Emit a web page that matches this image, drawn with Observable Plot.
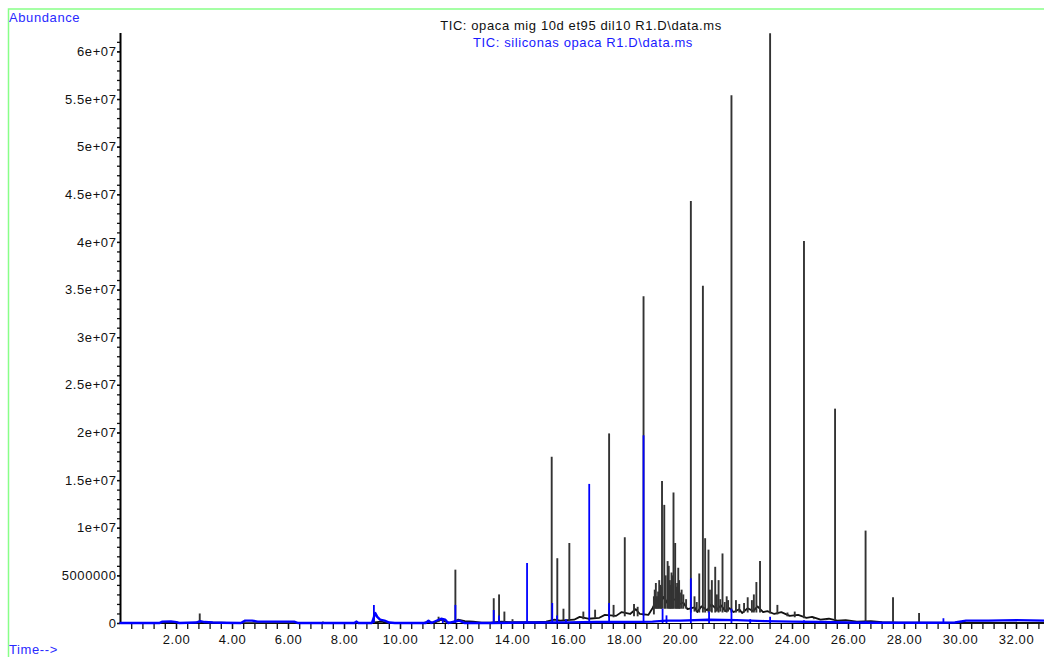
<!DOCTYPE html>
<html><head><meta charset="utf-8">
<script src="https://cdn.jsdelivr.net/npm/d3@7"></script>
<script src="https://cdn.jsdelivr.net/npm/@observablehq/plot@0.6"></script>
<style>
html,body{margin:0;padding:0;background:#fff;}
#chart{width:1044px;height:657px;overflow:hidden;position:relative;}
svg{display:block;}
</style></head><body><div id="chart"></div>
<script>
// ---- titles ----
const titleBlack = "TIC: opaca mig 10d et95 dil10 R1.D\\data.ms";
const titleBlue = "TIC: siliconas opaca R1.D\\data.ms";
const yAxisTitle = "Abundance";
const xAxisTitle = "Time-->";

// ---- tick labels ----
const xTickValues = [2, 4, 6, 8, 10, 12, 14, 16, 18, 20, 22, 24, 26, 28, 30, 32];
const xTickLabels = ["2.00","4.00","6.00","8.00","10.00","12.00","14.00","16.00","18.00","20.00","22.00","24.00","26.00","28.00","30.00","32.00"];
const yTickValues = [0, 5e6, 1e7, 1.5e7, 2e7, 2.5e7, 3e7, 3.5e7, 4e7, 4.5e7, 5e7, 5.5e7, 6e7];
const yTickLabels = ["0","5000000","1e+07","1.5e+07","2e+07","2.5e+07","3e+07","3.5e+07","4e+07","4.5e+07","5e+07","5.5e+07","6e+07"];

// ---- black trace (opaca mig 10d et95 dil10): baseline points ----
const blackBaseTime = [0,1.5,1.9,2.2,2.7,3.0,3.3,3.6,4.0,7.0,8.3,9.0,9.3,9.6,10.8,11.0,11.2,11.45,11.6,11.8,12.05,12.3,12.6,12.9,13.2,13.6,13.9,14.2,14.8,15.2,15.5,15.7,16.2,16.4,16.7,17.1,17.3,17.7,17.9,18.2,18.4,18.55,18.85,19.0,19.15,19.25,19.38,19.5,19.6,19.7,19.85,19.95,20.1,20.25,20.5,20.6,20.75,20.95,21.1,21.3,21.45,21.6,21.75,21.9,22.1,22.2,22.4,22.6,22.75,22.95,23.1,23.35,23.6,23.9,24.2,24.5,24.7,25.0,25.3,25.6,25.9,26.3,26.8,27.2,27.8,28.5,30.0,33.0];
const blackBaseAbund = [3e4,5e4,1.5e5,5e4,1e5,1.5e5,1e5,8e4,3e4,3e4,6e4,8e4,2e5,5e4,5e4,2e5,5e4,4e5,2e5,5e4,4e5,2.5e5,2e5,1e5,1e5,2e5,1.5e5,1.5e5,1.5e5,2e5,4e5,3e5,4e5,7e5,5e5,6e5,9e5,8e5,1.2e6,1e6,1.5e6,1e6,9e5,1.6e6,2.5e6,1.9e6,2.8e6,2.2e6,3e6,2.4e6,2.6e6,2.0e6,2.2e6,1.5e6,1.7e6,1.2e6,1.8e6,1.4e6,2.0e6,1.5e6,1.9e6,1.3e6,1.6e6,1.2e6,1.5e6,1.1e6,1.6e6,1.3e6,1.8e6,1.2e6,1.3e6,1.0e6,1.2e6,8e5,9e5,6e5,7e5,4e5,5e5,3e5,3.5e5,2e5,2.5e5,1.5e5,1e5,8e4,5e4,5e4];

// ---- black trace: peaks (time, apex, foot) ----
const blackPeakTime = [2.83,7.23,9.05,11.36,11.96,13.33,13.52,13.71,14.0,15.40,15.60,15.82,16.03,16.53,16.95,17.45,17.61,18.01,18.34,18.47,18.68,19.05,19.12,19.2,19.28,19.34,19.42,19.54,19.62,19.68,19.75,19.81,19.88,19.92,19.98,20.04,20.37,20.67,20.80,20.88,21.00,21.12,21.24,21.36,21.50,21.65,21.82,21.98,22.27,22.55,22.71,22.84,23.20,23.46,23.82,24.08,24.41,24.76,25.19,25.52,26.61,27.59,28.52,
  19.08,19.16,19.24,19.31,19.47,19.58,19.65,19.72,19.85,19.95,20.1,20.2,20.5,20.58,21.05,21.3,21.42,21.58,21.7,22.1,22.4,22.62];
const blackPeakAbund = [1.0e6,1.5e5,9e5,6.6e5,5.6e6,2.6e6,3.0e6,1.2e6,4e5,1.745e7,6.8e6,1.5e6,8.4e6,1.2e6,1.4e6,1.99e7,1.9e6,9.0e6,2.0e6,1.7e6,3.43e7,2.8e6,4.2e6,3.3e6,4.0e6,1.49e7,1.24e7,6.5e6,4.5e6,5.3e6,1.37e7,8.4e6,4.2e6,5.8e6,3.2e6,3.5e6,4.43e7,5.2e6,3.54e7,8.9e6,7.7e6,4.5e6,5.9e6,4.5e6,7.3e6,2.8e6,5.54e7,2.4e6,2.1e6,2.4e6,4.3e6,6.5e6,6.19e7,1.9e6,1.1e6,1.2e6,4.01e7,5e5,4e5,2.25e7,9.7e6,2.7e6,1.05e6,
  3.5e6,2.8e6,4.5e6,3.8e6,5e6,6e6,4e6,5e6,3.8e6,4.5e6,3e6,2.5e6,2.8e6,2.2e6,3.5e6,3e6,2.5e6,2.2e6,2.4e6,2.0e6,2.7e6,3.0e6];
const blackPeakFoot = [1e5,5e4,1e5,8e4,1e5,1e5,1e5,1e5,1.5e5,2.5e5,2.5e5,3e5,3e5,4e5,5e5,6e5,6e5,7e5,7e5,7e5,8e5,9e5,1.5e6,1.5e6,1.5e6,1.5e6,1.5e6,1.5e6,1.5e6,1.5e6,1.5e6,1.5e6,1.5e6,1.5e6,1.5e6,1.5e6,1.1e6,1.1e6,1.1e6,1.1e6,1.1e6,1.1e6,1.1e6,1.1e6,1.1e6,1.1e6,1.1e6,1.1e6,1.1e6,1.1e6,1.1e6,1.1e6,1.0e6,9e5,7e5,6e5,5e5,4e5,3e5,3e5,2e5,1e5,5e4,
  1.5e6,1.5e6,1.5e6,1.5e6,1.5e6,1.5e6,1.5e6,1.5e6,1.5e6,1.5e6,1.5e6,1.5e6,1.2e6,1.2e6,1.2e6,1.2e6,1.2e6,1.2e6,1.2e6,1.1e6,1.1e6,1.1e6];

// ---- blue trace (siliconas opaca): baseline points ----
const blueBaseTime = [0,1.4,1.5,1.8,2.0,2.1,2.7,2.85,3.0,3.3,3.6,4.3,4.45,4.7,4.9,6.2,6.35,8.35,8.42,8.5,8.98,9.1,9.17,9.27,9.43,9.6,9.8,10.9,11.0,11.1,11.45,11.6,11.7,12.1,12.3,13.2,14.5,15.0,16.0,17.0,18.0,19.0,19.5,20.0,21.0,22.0,22.5,23.0,24.0,25.0,26.0,27.0,29.0,29.8,30.2,31.0,32.0,33.0];
const blueBaseAbund = [6e4,6e4,2e5,2.2e5,1.5e5,5e4,1e5,2.5e5,1.5e5,1e5,8e4,5e4,3e5,3e5,2e5,2e5,5e4,5e4,2e5,5e4,6e4,1.1e6,7e5,4e5,3e5,1e5,5e4,5e4,3e5,5e4,5e5,4e5,5e4,3e5,5e4,5e4,1e5,1e5,1.2e5,1.5e5,1.5e5,2e5,3e5,3e5,4e5,3.5e5,3e5,2.5e5,2e5,1.5e5,1e5,8e4,8e4,1e5,3e5,3e5,3.5e5,3e5];

// ---- blue trace: peaks ----
const bluePeakTime = [2.83,8.42,9.05,10.98,11.51,11.96,13.33,13.52,14.52,15.42,15.59,15.91,16.74,17.45,18.68,19.36,19.5,20.37,21.02,21.82,22.49,23.20,24.41,25.54,26.61,29.39];
const bluePeakAbund = [2.4e5,2e5,1.9e6,3e5,5e5,1.9e6,1.36e6,8e5,6.3e6,2.1e6,8e5,4e5,1.46e7,2.1e6,1.97e7,1.5e6,8e5,4.7e6,1.2e6,1.5e6,4e5,6.6e5,3e5,2e5,2e5,5e5];

const yMinorTicks = d3.range(0, 6.15e7, 1e6);
const xMinorTicks = d3.range(0.4, 33, 0.4);

const blackIdx = blackBaseTime.map((_, i) => i);
const blackPk = blackPeakTime.map((_, i) => i);
const blueIdx = blueBaseTime.map((_, i) => i);
const bluePk = bluePeakTime.map((_, i) => i);

const font = "Arial, 'Liberation Sans', sans-serif";

const svg = Plot.plot({
  width: 1044, height: 657,
  marginLeft: 120, marginRight: 0, marginTop: 33, marginBottom: 34,
  x: {domain: [0, 33]},
  y: {domain: [0, 6.193e7]},
  style: {fontFamily: font, fontSize: "13px", color: "#111", background: "transparent", letterSpacing: "0.6px"},
  marks: [
    Plot.axisY(yMinorTicks, {tickSize: 3, tickFormat: () => "", label: null, strokeWidth: 1.3}),
    Plot.axisY(yTickValues, {tickSize: 3, tickPadding: 1, tickFormat: d => yTickLabels[yTickValues.indexOf(d)], label: null, strokeWidth: 1.3}),
    Plot.axisX(xMinorTicks, {tickSize: 6, tickFormat: () => "", label: null, strokeWidth: 1.3}),
    Plot.axisX(xTickValues, {tickSize: 6, tickPadding: 5, tickFormat: d => xTickLabels[xTickValues.indexOf(d)], label: null, strokeWidth: 1.3}),
    Plot.ruleX([0], {stroke: "#000", strokeWidth: 2}),
    Plot.ruleY([0], {stroke: "#000"}),
    Plot.line(blackIdx, {x: i => blackBaseTime[i], y: i => blackBaseAbund[i], stroke: "#111", strokeWidth: 1.8}),
    Plot.ruleX(blackPk, {x: i => blackPeakTime[i], y1: i => blackPeakFoot[i], y2: i => blackPeakAbund[i], stroke: "#333", strokeWidth: 1.9}),
    Plot.line(blueIdx, {x: i => blueBaseTime[i], y: i => blueBaseAbund[i], stroke: "#0000ff", strokeWidth: 2.4}),
    Plot.ruleX(bluePk, {x: i => bluePeakTime[i], y1: 0, y2: i => bluePeakAbund[i], stroke: "#0000ff", strokeWidth: 1.8})
  ]
});

const s = d3.select(svg);
s.insert("rect", ":first-child")
  .attr("x", 8.5).attr("y", 9).attr("width", 2000).attr("height", 2000)
  .attr("fill", "none").attr("stroke", "#88ff88").attr("stroke-width", 1.5);
const addText = (txt, x, y, anchor, fill) => s.append("text")
  .attr("x", x).attr("y", y).attr("text-anchor", anchor)
  .attr("fill", fill).attr("font-family", font).attr("font-size", 13)
  .style("letter-spacing", "0.6px").text(txt);
addText(yAxisTitle, 9, 22, "start", "#2a2aff");
addText(xAxisTitle, 9, 654, "start", "#2a2aff");
addText(titleBlack, 581, 30, "middle", "#111");
addText(titleBlue, 583, 46.7, "middle", "#1a1aff");

document.getElementById("chart").appendChild(svg);
</script></body></html>
